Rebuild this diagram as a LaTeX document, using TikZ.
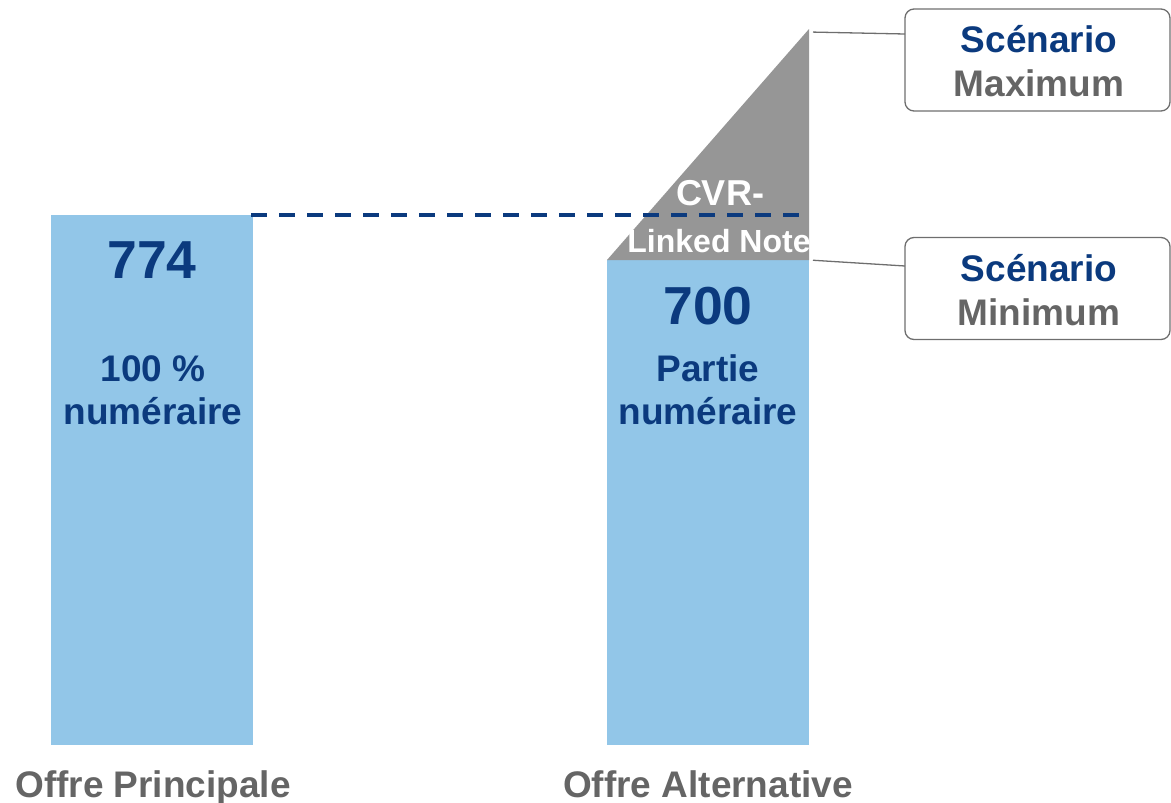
\documentclass[tikz,border=0pt]{standalone}
\usepackage{fontspec}
\setmainfont{Liberation Sans}
\definecolor{barblue}{HTML}{92C6E8}
\definecolor{navy}{HTML}{0B3A7E}
\definecolor{trigray}{HTML}{969696}
\definecolor{txtgray}{HTML}{656565}
\definecolor{linegray}{HTML}{6E6E6E}
\begin{document}
\begin{tikzpicture}[x=1pt,y=-1pt,
  bluetxt/.style={font=\bfseries\fontsize{37}{43}\selectfont, text=navy, inner sep=0pt, anchor=base},
  bignum/.style={font=\bfseries\fontsize{53.5}{60}\selectfont, text=navy, inner sep=0pt, anchor=base},
  graytxt/.style={font=\bfseries\fontsize{37}{43}\selectfont, text=txtgray, inner sep=0pt, anchor=base},
  whitetxt/.style={font=\bfseries\fontsize{32}{38}\selectfont, text=white, inner sep=0pt, anchor=base},
  callout/.style={draw=linegray, line width=1.3pt, rounded corners=9pt, minimum width=265pt, minimum height=102pt, inner sep=0pt},
  conn/.style={draw=linegray, line width=1.3pt}
]
\useasboundingbox (0,0) rectangle (1171,803);
% bars
\fill[barblue] (51,215) rectangle (253,745);
\fill[barblue] (607,260) rectangle (809,745);
% triangle
\coordinate (trileft) at (607,260);
\coordinate (tribase) at (809,260);
\coordinate (tritop) at (809,29);
\fill[trigray] (trileft) -- (tribase) -- (tritop) -- cycle;
% dashed reference line
\coordinate (dstart) at (251,215);
\coordinate (dend) at (800,215);
\draw[navy, line width=3.5pt, dash pattern=on 16pt off 12pt] (dstart) -- (dend);
% texts in bar 1
\node[bignum] (n774) at (152,278) {774};
\node[bluetxt] (p100) at (153,381) {100 \%};
\node[bluetxt] (num1) at (153,424) {numéraire};
% texts in bar 2
\node[bignum] (n700) at (708,324) {700};
\node[bluetxt] (partie) at (708,381) {Partie};
\node[bluetxt] (num2) at (708,424) {numéraire};
% CVR text
\node[whitetxt, font=\bfseries\fontsize{36}{40}\selectfont] (cvr) at (720,205) {CVR-};
\node[whitetxt] (linked) at (719,252) {Linked Note};
% callouts
\node[callout] (boxmax) at (1037.5,60) {};
\node[bluetxt] (scmax) at (1039,52) {Scénario};
\node[graytxt] (maxi) at (1039,96) {Maximum};
\node[callout] (boxmin) at (1037.5,288.5) {};
\node[bluetxt] (scmin) at (1039,281) {Scénario};
\node[graytxt] (mini) at (1039,325) {Minimum};
\coordinate (cmax) at (905,34);
\coordinate (cmin) at (905,266);
\draw[conn, shorten <=4pt] (tritop) ++(0,3) -- (cmax);
\draw[conn, shorten <=4pt] (tribase) -- (cmin);
% axis labels
\node[graytxt] (offp) at (153,797) {Offre Principale};
\node[graytxt] (offa) at (708,797) {Offre Alternative};
\end{tikzpicture}
\end{document}
